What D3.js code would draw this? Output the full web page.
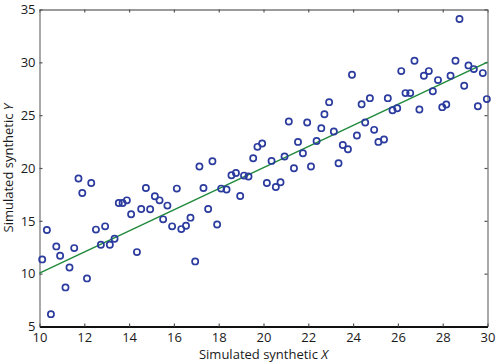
<html>
<head>
  <meta charset="utf-8"/>
  <title>Simulated synthetic data</title>
  <style>
    body { margin: 0; background: #fff; }
    text { font-family: "Open Sans", sans-serif; fill: #1a1a1a; }
  </style>
</head>
<body>
  <div id="chart"></div>
  <script src="https://d3js.org/d3.v7.min.js"></script>
  <script>

  // data
  var simX = [10.12, 10.33, 10.51, 10.75, 10.92, 11.16, 11.34, 11.55, 11.74, 11.91,
    12.12, 12.31, 12.52, 12.74, 12.93, 13.14, 13.35, 13.54, 13.71, 13.90,
    14.09, 14.35, 14.54, 14.75, 14.94, 15.15, 15.36, 15.52, 15.71, 15.92,
    16.13, 16.33, 16.54, 16.74, 16.95, 17.14, 17.32, 17.53, 17.72, 17.93,
    18.11, 18.35, 18.57, 18.77, 18.96, 19.13, 19.33, 19.54, 19.73, 19.94,
    20.15, 20.36, 20.55, 20.76, 20.94, 21.13, 21.36, 21.54, 21.76, 21.95,
    22.12, 22.37, 22.58, 22.72, 22.93, 23.14, 23.35, 23.54, 23.77, 23.95,
    24.17, 24.38, 24.54, 24.75, 24.94, 25.13, 25.38, 25.55, 25.76, 25.97,
    26.15, 26.34, 26.55, 26.74, 26.96, 27.16, 27.38, 27.56, 27.79, 27.98,
    28.16, 28.35, 28.57, 28.75, 28.96, 29.15, 29.39, 29.57, 29.79, 29.97];
  var simY = [11.35, 14.13, 6.17, 12.58, 11.70, 8.70, 10.59, 12.42, 19.00, 17.64,
    9.55, 18.58, 14.17, 12.74, 14.48, 12.74, 13.31, 16.69, 16.69, 16.94,
    15.62, 12.04, 16.12, 18.11, 16.09, 17.32, 16.94, 15.14, 16.44, 14.48,
    18.05, 14.22, 14.54, 15.30, 11.16, 20.14, 18.11, 16.12, 20.64, 14.65,
    18.05, 17.96, 19.31, 19.53, 17.35, 19.28, 19.19, 20.92, 22.00, 22.32,
    18.58, 20.67, 18.20, 18.65, 21.09, 24.40, 19.98, 22.47, 21.40, 24.31,
    20.14, 22.56, 23.77, 25.09, 26.23, 23.45, 20.45, 22.18, 21.78, 28.82,
    23.08, 26.04, 24.31, 26.61, 23.61, 22.47, 22.70, 26.61, 25.47, 25.66,
    29.17, 27.09, 27.09, 30.15, 25.54, 28.73, 29.17, 27.27, 28.32, 25.76,
    26.01, 28.73, 30.15, 34.10, 27.78, 29.71, 29.36, 25.85, 28.98, 26.52];

  // fitted line
  var fitX = [10, 30];
  var fitY = [10.05, 30.02];

  var xTicks = [10, 12, 14, 16, 18, 20, 22, 24, 26, 28, 30];
  var yTicks = [5, 10, 15, 20, 25, 30, 35];

  var width = 500, height = 363;
  var mLeft = 39.5, mRight = 487.5, mTop = 9.5, mBottom = 326.5;

  var svg = d3.select("#chart").append("svg")
    .attr("width", width)
    .attr("height", height);

  var x = d3.scaleLinear().domain([10, 30]).range([mLeft, mRight]);
  var y = d3.scaleLinear().domain([5, 35]).range([mBottom, mTop]);

  //frame axes, ticks pointing inward:
  var axisColor = "#7a7a7a";

  var gTop = svg.append("g").attr("transform", "translate(0," + mTop + ")")
    .call(d3.axisTop(x).tickValues(xTicks).tickSizeInner(-3).tickSizeOuter(0).tickFormat(""));
  var gRight = svg.append("g").attr("transform", "translate(" + mRight + ",0)")
    .call(d3.axisRight(y).tickValues(yTicks).tickSizeInner(-3).tickSizeOuter(0).tickFormat(""));
  var gLeft = svg.append("g").attr("transform", "translate(" + mLeft + ",0)")
    .call(d3.axisLeft(y).tickValues(yTicks).tickSizeInner(-3).tickSizeOuter(0).tickPadding(4));
  var gBottom = svg.append("g").attr("transform", "translate(0," + mBottom + ")")
    .call(d3.axisBottom(x).tickValues(xTicks).tickSizeInner(-3).tickSizeOuter(0).tickPadding(6));

  [gTop, gRight, gLeft].forEach(function (g){
    g.select(".domain").attr("stroke", axisColor).attr("stroke-width", 1.3);
    g.selectAll(".tick line").attr("stroke", "#555").attr("stroke-width", 1.2);
  });
  gBottom.select(".domain").attr("stroke", "#111").attr("stroke-width", 2.2);
  gBottom.selectAll(".tick line").attr("stroke", "#555").attr("stroke-width", 1.2);

  svg.selectAll(".tick text")
    .attr("font-family", "'Open Sans', sans-serif")
    .attr("font-size", 13)
    .attr("fill", "#1a1a1a");

  //regression line:
  var line = d3.line()
    .x(function (d){ return x(d[0]); })
    .y(function (d){ return y(d[1]); });

  svg.append("path")
    .datum(fitX.map(function (v, i){ return [v, fitY[i]]; }))
    .attr("d", line)
    .attr("fill", "none")
    .attr("stroke", "#1f8a3b")
    .attr("stroke-width", 1.5);

  //scatter points:
  svg.selectAll("circle.pt")
    .data(simX.map(function (v, i){ return [v, simY[i]]; }))
    .enter()
    .append("circle")
    .attr("class", "pt")
    .attr("cx", function (d){ return x(d[0]); })
    .attr("cy", function (d){ return y(d[1]); })
    .attr("r", 3.1)
    .attr("fill", "none")
    .attr("stroke", "#2b3b9e")
    .attr("stroke-width", 1.7);

  //axis titles:
  var xt = svg.append("text")
    .attr("x", (mLeft + mRight) / 2)
    .attr("y", 359)
    .attr("text-anchor", "middle")
    .attr("font-size", 13);
  xt.append("tspan").text("Simulated synthetic ");
  xt.append("tspan").attr("font-style", "italic").text("X");

  var yt = svg.append("text")
    .attr("transform", "translate(13," + ((mTop + mBottom) / 2) + ") rotate(-90)")
    .attr("text-anchor", "middle")
    .attr("font-size", 13);
  yt.append("tspan").text("Simulated synthetic ");
  yt.append("tspan").attr("font-style", "italic").text("Y");

  </script>
</body>
</html>
